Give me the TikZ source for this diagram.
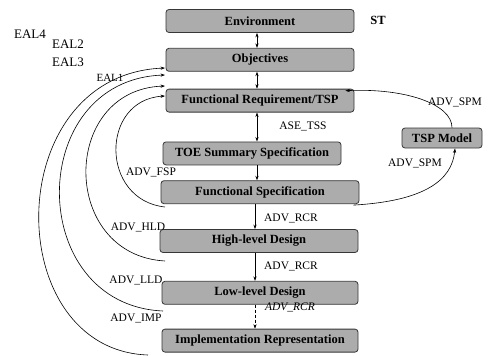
\documentclass[tikz,border=0pt]{standalone}
\usepackage{fontspec}
\setmainfont{Liberation Serif}
\usetikzlibrary{arrows.meta, positioning}
\definecolor{stagefill}{RGB}{172,172,172}
\definecolor{stageline}{RGB}{55,55,55}
\tikzset{
  >={Stealth[length=4.5pt,width=3.2pt]},
  stage/.style={rectangle, rounded corners=3pt, draw=stageline, thick,
                fill=stagefill, minimum width=#1, minimum height=23pt,
                inner sep=1pt, font=\fontsize{12.5}{14}\selectfont\bfseries},
  stage/.default=190pt,
  flow/.style={->, semithick},
  tag/.style={font=\fontsize{11.5}{13}\selectfont, inner sep=1pt},
  eal/.style={font=\fontsize{13}{15}\selectfont, inner sep=0pt},
}
\begin{document}
\begin{tikzpicture}[x=1pt, y=-1pt]
  \useasboundingbox (0,0) rectangle (491,356);
  % evaluation column
  \node[stage=188pt] (env) at (260,21) {Environment};
  \node[stage=188pt, below=15pt of env] (obj) {Objectives};
  \node[stage=188pt, below=17pt of obj] (fr) {Functional Requirement/TSP};
  \node[stage=178pt, below=29pt of fr, xshift=-8pt] (toe) {TOE Summary Specification};
  \node[stage=198pt, below=15pt of toe, xshift=8pt] (fs) {Functional Specification};
  \node[stage=198pt, below=25pt of fs, xshift=-1pt] (hld) {High-level Design};
  \node[stage=196pt, below=28pt of hld, xshift=1pt] (lld) {Low-level Design};
  \node[stage=196pt, below=24pt of lld] (ir) {Implementation Representation};
  \node[stage=80pt, minimum height=20pt] (tsp) at (442,138) {TSP Model};
  \node[font=\fontsize{12.5}{14}\selectfont\bfseries, inner sep=0pt] (st) at (378,20) {ST};

  % links down the column
  \draw[<->, semithick] ([xshift=-3pt]env.south) -- ([xshift=-3pt]obj.north);
  \draw[<->, semithick] ([xshift=-3pt]obj.south) -- ([xshift=-3pt]obj.south |- fr.north);
  \draw[<->, semithick] ([xshift=-3pt]obj.south |- fr.south) -- ([xshift=-3pt]obj.south |- toe.north);
  \draw[flow] ([xshift=-3pt]obj.south |- toe.south) -- ([xshift=-3pt]obj.south |- fs.north);
  \draw[flow] ([xshift=-5pt]obj.south |- fs.south) -- ([xshift=-5pt]obj.south |- hld.north);
  \draw[flow] ([xshift=-5pt]obj.south |- hld.south) -- ([xshift=-5pt]obj.south |- lld.north);
  \draw[flow, densely dashed] ([xshift=-5pt]obj.south |- lld.south) -- ([xshift=-5pt]obj.south |- ir.north);
  \node[tag] (tss) at (303,126) {ASE\_TSS};
  \node[tag] (rcr1) at (291,218) {ADV\_RCR};
  \node[tag] (rcr2) at (291,266) {ADV\_RCR};
  \node[tag] (rcr3) at (290,307) {\textit{ADV\_RCR}};

  % TSP model loop
  \draw[flow] ([xshift=10pt]tsp.north) .. controls (452,104) and (405,88) .. ([xshift=-9pt,yshift=-2pt]fr.north east);
  \draw[flow] ([xshift=-6pt,yshift=-1pt]fs.south east) .. controls (425,201) and (452,180) .. ([xshift=13pt]tsp.south);
  \node[tag] (spm1) at (455,102) {ADV\_SPM};
  \node[tag] (spm2) at (415,163) {ADV\_SPM};

  % assurance levels fed back to the objectives
  \coordinate (eal4in) at (165,68);
  \coordinate (eal3in) at (165,75);
  \coordinate (eal2in) at (165,86);
  \coordinate (eal1in) at (165,96);
  \coordinate (fspout) at (165,207);
  \coordinate (hldout) at (165,261);
  \coordinate (lldout) at (163,311);
  \coordinate (impout) at (148,355);
  \draw[flow] (fspout) .. controls (100,200) and (100,100) .. (eal1in);
  \draw[flow] (hldout) .. controls (60,255) and (60,90) .. (eal2in);
  \draw[flow] (lldout) .. controls (25,305) and (25,80) .. (eal3in);
  \draw[flow] (impout) .. controls (0,350) and (0,75) .. (eal4in);
  \node[tag] (fsp) at (151,172) {ADV\_FSP};
  \node[tag] (hldtag) at (138,227) {ADV\_HLD};
  \node[tag] (lldtag) at (136,280) {ADV\_LLD};
  \node[tag] (imp) at (136,318) {ADV\_IMP};
  \node[eal] (eal4) at (30,34) {EAL4};
  \node[eal] (eal2) at (68,44) {EAL2};
  \node[eal] (eal3) at (68,62) {EAL3};
  \node[eal, font=\fontsize{11}{13}\selectfont] (eal1) at (110,78) {EAL1};
\end{tikzpicture}
\end{document}
